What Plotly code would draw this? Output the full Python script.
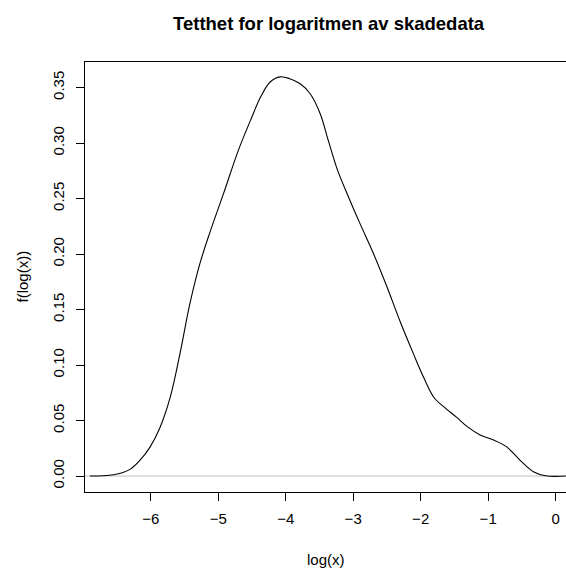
import plotly.graph_objects as go

# density curve of log(x)
log_x = [-6.90, -6.70, -6.55, -6.42, -6.30, -6.16, -6.01, -5.86, -5.71, -5.56, -5.42,
         -5.27, -5.12, -4.92, -4.70, -4.52, -4.37, -4.23, -4.08, -3.94, -3.79,
         -3.64, -3.49, -3.37, -3.24, -3.08, -2.90, -2.70, -2.50, -2.30, -2.11,
         -1.95, -1.80, -1.63, -1.47, -1.30, -1.12, -0.92, -0.73, -0.53, -0.33,
         -0.15, 0.15]
density = [0.0, 0.0003, 0.0012, 0.0030, 0.0062, 0.0140, 0.026, 0.044, 0.071, 0.112, 0.155,
           0.1915, 0.2200, 0.2546, 0.2936, 0.3206, 0.3416, 0.355, 0.3596, 0.358, 0.3536,
           0.3446, 0.3266, 0.3026, 0.2770, 0.2530, 0.2276, 0.2005, 0.1705, 0.1385, 0.1105,
           0.0880, 0.0705, 0.0610, 0.0530, 0.0440, 0.0370, 0.0325, 0.0265, 0.0144, 0.0039,
           0.0002, 0.0]

x_ticks = [-6, -5, -4, -3, -2, -1, 0]
x_tick_labels = ["\u22126", "\u22125", "\u22124", "\u22123", "\u22122", "\u22121", "0"]
y_ticks = [0.00, 0.05, 0.10, 0.15, 0.20, 0.25, 0.30, 0.35]
y_tick_labels = ["0.00", "0.05", "0.10", "0.15", "0.20", "0.25", "0.30", "0.35"]

title = "Tetthet for logaritmen av skadedata"
x_title = "log(x)"
y_title = "f(log(x))"

FONT = "Liberation Sans, Arial, sans-serif"
L, R, T, B = 85, 0, 62, 77
W, H = 566, 569
pw, ph = W - L - R, H - T - B

def px_x(px):
    return (px - L) / pw

def px_y(py):
    return (H - B - py) / ph

fig = go.Figure()
fig.add_trace(go.Scatter(x=log_x, y=density, mode="lines",
                         line=dict(color="black", width=1.1, shape="spline", smoothing=1.0),
                         hoverinfo="skip", showlegend=False))

fig.add_shape(type="line", xref="paper", yref="y", x0=0, x1=1, y0=0, y1=0,
              line=dict(color="#BEBEBE", width=1), layer="below")

fig.update_layout(
    width=W, height=H,
    margin=dict(l=L, r=R, t=T, b=B, pad=0),
    paper_bgcolor="white", plot_bgcolor="white",
    font=dict(family=FONT, size=15, color="black"),
    showlegend=False,
    xaxis=dict(range=[-6.973, 0.153], tickvals=x_ticks, ticktext=x_tick_labels,
               showgrid=False, zeroline=False, showline=True, mirror=True,
               linecolor="black", linewidth=1, ticks="outside", ticklen=8,
               tickcolor="black", ticklabelstandoff=5,
               tickfont=dict(size=15, family=FONT)),
    yaxis=dict(range=[-0.0144, 0.373], tickvals=y_ticks, ticktext=y_tick_labels,
               showgrid=False, zeroline=False, showline=True, mirror=False,
               linecolor="black", linewidth=1, ticks="outside", ticklen=8,
               tickcolor="black", tickangle=-90, ticklabelstandoff=6,
               tickfont=dict(size=15, family=FONT)),
    annotations=[
        dict(text="<b>" + title + "</b>", xref="paper", yref="paper",
             x=px_x(329), y=px_y(23), showarrow=False, xanchor="center", yanchor="middle",
             font=dict(size=18.5, family=FONT, color="black")),
        dict(text=x_title, xref="paper", yref="paper",
             x=px_x(325.5), y=px_y(559), showarrow=False, xanchor="center", yanchor="middle",
             font=dict(size=15, family=FONT, color="black")),
        dict(text=y_title, xref="paper", yref="paper", textangle=-90,
             x=px_x(22), y=px_y(276.5), showarrow=False, xanchor="center", yanchor="middle",
             font=dict(size=15, family=FONT, color="black")),
    ],
)

fig.write_html("out.html")
